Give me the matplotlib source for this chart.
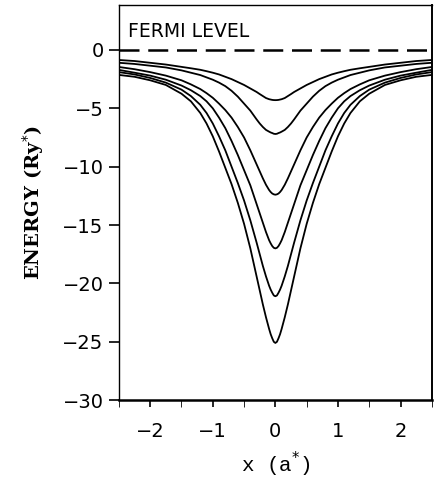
import numpy as np
import matplotlib
matplotlib.use("Agg")
import matplotlib.pyplot as plt

# half-curves (curves are symmetric about x = 0)
x_half = [0.0, 0.025, 0.05, 0.075, 0.1, 0.15, 0.2, 0.25, 0.3, 0.4, 0.5, 0.6, 0.7,
          0.8, 0.9, 1.0, 1.1, 1.2, 1.35, 1.5, 1.75, 2.0, 2.25, 2.5]

level1 = [-4.30, -4.295, -4.28, -4.25, -4.22, -4.12, -3.95, -3.78, -3.60, -3.30, -3.00, -2.75, -2.50,
          -2.30, -2.10, -1.95, -1.82, -1.70, -1.57, -1.45, -1.25, -1.10, -0.95, -0.86]
level2 = [-7.20, -7.18, -7.12, -7.07, -7.00, -6.85, -6.60, -6.30, -5.95, -5.20, -4.60, -4.00, -3.50,
          -3.10, -2.80, -2.55, -2.35, -2.15, -1.95, -1.75, -1.50, -1.35, -1.20, -1.10]
level3 = [-12.40, -12.37, -12.30, -12.17, -12.00, -11.55, -11.00, -10.40, -9.80, -8.60, -7.50, -6.60, -5.80,
          -5.15, -4.60, -4.10, -3.70, -3.35, -2.95, -2.60, -2.20, -1.90, -1.65, -1.46]
level4 = [-17.00, -16.95, -16.80, -16.57, -16.30, -15.60, -14.80, -14.00, -13.20, -11.60, -10.30, -9.00, -7.80,
          -6.70, -5.80, -5.00, -4.40, -3.95, -3.45, -3.05, -2.55, -2.20, -1.95, -1.71]
level5 = [-21.10, -21.03, -20.80, -20.53, -20.20, -19.40, -18.50, -17.50, -16.50, -14.60, -12.90, -11.40, -10.00,
          -8.60, -7.40, -6.30, -5.40, -4.70, -3.95, -3.40, -2.80, -2.40, -2.10, -1.90]
level6 = [-25.10, -25.00, -24.70, -24.35, -23.90, -22.90, -21.80, -20.60, -19.40, -17.00, -14.90, -13.10, -11.50,
          -10.10, -8.70, -7.40, -6.30, -5.40, -4.40, -3.75, -3.00, -2.60, -2.30, -2.14]

fermi_level = 0.0

fig = plt.figure(figsize=(4.34, 4.88), dpi=100)
ax = fig.add_axes([0.274, 0.180, 0.721, 0.810])

xh = np.array(x_half)
x_full = np.concatenate([-xh[::-1], xh[1:]])
for lev in [level1, level2, level3, level4, level5, level6]:
    e = np.array(lev)
    e_full = np.concatenate([e[::-1], e[1:]])
    ax.plot(x_full, e_full, color="black", lw=1.3)

ax.axhline(fermi_level, color="black", lw=1.8, dashes=(8, 3.5))
ax.text(-2.36, 1.6, "FERMI LEVEL", fontsize=13.5, family="DejaVu Sans",
        ha="left", va="center")

ax.set_xlim(-2.5, 2.5)
ax.set_ylim(-30, 3.86)
ax.set_xticks([-2, -1, 0, 1, 2])
ax.set_xticks(np.arange(-2.5, 2.51, 0.5), minor=True)
ax.set_yticks([0, -5, -10, -15, -20, -25, -30])
ax.set_yticklabels(["0", "\u22125", "\u221210", "\u221215", "\u221220", "\u221225", "\u221230"])
ax.set_xticklabels(["\u22122", "\u22121", "0", "1", "2"])
ax.tick_params(axis="both", direction="out", labelsize=14, width=1.2)
ax.tick_params(axis="x", which="both", length=5, pad=11)
ax.tick_params(axis="y", length=7, pad=4)
for lab in ax.get_xticklabels() + ax.get_yticklabels():
    lab.set_family("DejaVu Sans")

for s in ax.spines.values():
    s.set_linewidth(1.0)
ax.spines["bottom"].set_linewidth(1.8)
ax.spines["right"].set_linewidth(1.4)

ax.set_ylabel("ENERGY (Ry$^{*}$)", fontsize=14, family="DejaVu Serif",
              fontweight="bold", labelpad=12)
ax.set_xlabel("x (a$^{*}$)", fontsize=15, family="Liberation Mono", labelpad=6)

fig.savefig("out.png", dpi=100)
